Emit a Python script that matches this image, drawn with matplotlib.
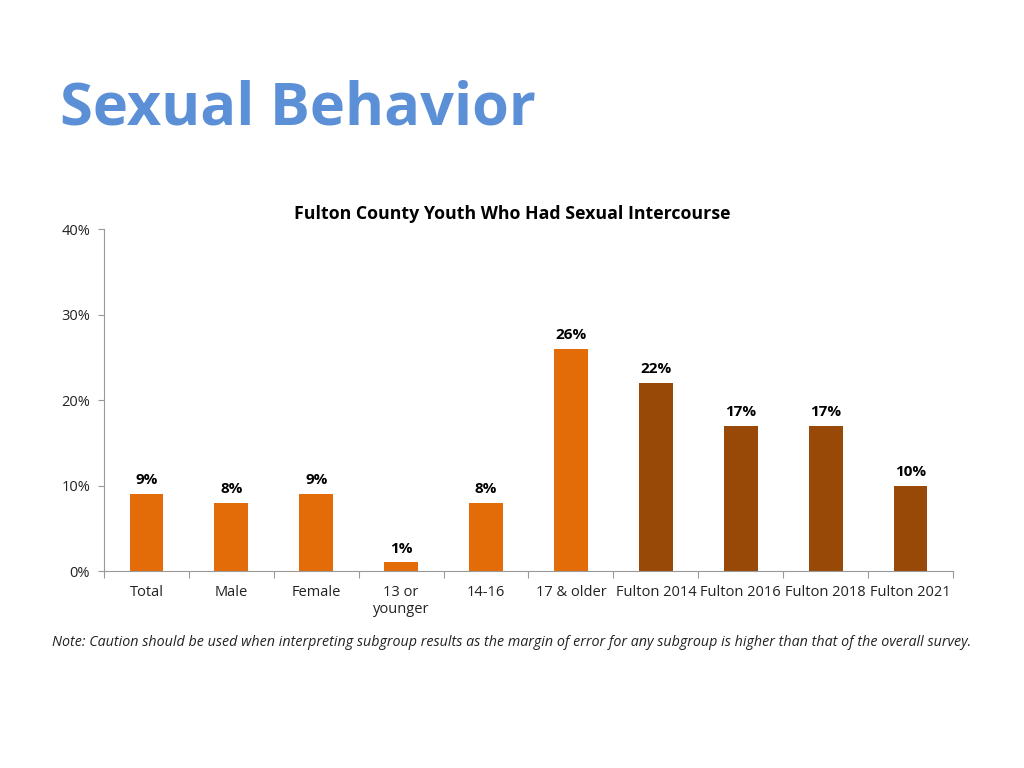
import matplotlib.pyplot as plt
from matplotlib.ticker import PercentFormatter

plt.rcParams['font.family'] = ['Open Sans', 'DejaVu Sans']

categories = ['Total', 'Male', 'Female', '13 or\nyounger', '14-16', '17 & older',
              'Fulton 2014', 'Fulton 2016', 'Fulton 2018', 'Fulton 2021']
values = [9, 8, 9, 1, 8, 26, 22, 17, 17, 10]
bar_colors = ['#E36C09'] * 6 + ['#984807'] * 4

fig = plt.figure(figsize=(10.24, 7.68), dpi=100)
ax = fig.add_axes([0.1016, 0.2565, 0.829, 0.4453])

x = range(len(categories))
bars = ax.bar(x, values, width=0.4, color=bar_colors)
for b, v in zip(bars, values):
    ax.text(b.get_x() + b.get_width() / 2, v + 0.8, f'{v}%', ha='center', va='bottom',
            fontsize=11, fontweight='bold', color='black')

ax.set_xlim(-0.5, len(categories) - 0.5)
ax.set_ylim(0, 40)
ax.set_yticks([0, 10, 20, 30, 40])
ax.yaxis.set_major_formatter(PercentFormatter(decimals=0))
ax.set_xticks([i - 0.5 for i in range(len(categories) + 1)], minor=False)
ax.set_xticklabels([])
ax.set_xticks(list(x), minor=True)
ax.set_xticklabels(categories, minor=True, fontsize=10.5, color='#222222')
ax.tick_params(axis='x', which='minor', length=0, pad=10)
ax.tick_params(axis='x', which='major', length=5, color='#999999')
ax.tick_params(axis='y', length=4, pad=6, color='#999999', labelsize=10.5,
               labelcolor='#222222')
for s in ['top', 'right']:
    ax.spines[s].set_visible(False)
for s in ['left', 'bottom']:
    ax.spines[s].set_color('#999999')

fig.text(0.5, 0.721, 'Fulton County Youth Who Had Sexual Intercourse', fontsize=12.8,
         fontweight='bold', ha='center', va='center')

fig.text(0.059, 0.838, 'Sexual Behavior', fontsize=42.8, fontweight='bold',
         color='#5B8FD6', va='baseline')
fig.text(0.051, 0.164, 'Note: Caution should be used when interpreting subgroup results as the '
         'margin of error for any subgroup is higher than that of the overall survey.',
         fontsize=10.3, style='italic', color='#222222', va='center')

fig.savefig('out.png', dpi=100)
